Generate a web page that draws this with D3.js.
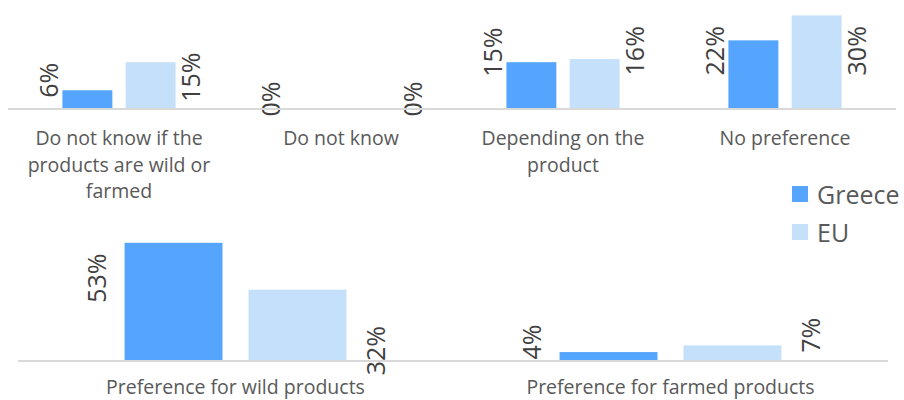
<!DOCTYPE html>
<html>
<head>
<meta charset="utf-8">
<script src="https://cdn.jsdelivr.net/npm/d3@7"></script>
<style>
  body { margin: 0; background: #fff; }
  svg { display: block; font-family: "Open Sans", sans-serif; }
</style>
</head>
<body>
<div id="chart"></div>
<script>
// Data

const topCategories = ["Do not know if the products are wild or farmed", "Do not know", "Depending on the product", "No preference"];
const topGreece = [6, 0, 15, 22];
const topEU = [15, 0, 16, 30];

const bottomCategories = ["Preference for wild products", "Preference for farmed products"];
const bottomGreece = [53, 4];
const bottomEU = [32, 7];

const seriesNames = ["Greece", "EU"];

// Styles

const colors = {Greece: "#55a5ff", EU: "#c5e0fb"};
const labelNudge = {"top|EU|0": 25, "bottom|EU|0": 71};                // labels Excel pushed aside

const width = 904, height = 400;

const svg = d3.select("#chart").append("svg")
    .attr("width", width)
    .attr("height", height);

// Wrap a text element into lines that fit the given width

function wrap(text, maxWidth, lineHeight) {
    text.each(function() {
        const t = d3.select(this);
        const words = t.text().split(/\s+/);
        const x = t.attr("x");
        t.text(null);
        let line = [];
        let tspan = t.append("tspan").attr("x", x).attr("dy", 0);
        words.forEach(w => {
            line.push(w);
            tspan.text(line.join(" "));
            if (tspan.node().getComputedTextLength() > maxWidth && line.length > 1) {
                line.pop();
                tspan.text(line.join(" "));
                line = [w];
                tspan = t.append("tspan").attr("x", x).attr("dy", lineHeight).text(w);
            }
        });
    });
}

// Draw one row of grouped bars

function drawRow(key, cats, greece, eu, xRange, baseY, yMax, pxPerPct, labelY, wrapWidth) {
    const rows = cats.map((c, i) => ({cat: c, i: i, Greece: greece[i], EU: eu[i]}));

    const x = d3.scaleBand().domain(cats).range(xRange).padding(0);
    const xs = d3.scaleBand().domain(seriesNames).range([0, x.bandwidth()])
        .paddingInner(0.21).paddingOuter(0.86);
    const y = d3.scaleLinear().domain([0, yMax]).range([baseY, baseY - yMax * pxPerPct]);
    const plotTop = y(yMax);

    const g = svg.append("g");

    // bars
    const groups = g.selectAll(".grp").data(rows).enter().append("g")
        .attr("transform", d => "translate(" + x(d.cat) + ",0)");

    groups.selectAll("rect")
        .data(d => seriesNames.map(s => ({s: s, v: d[s], i: d.i})))
        .enter().append("rect")
            .attr("x", d => xs(d.s))
            .attr("y", d => y(d.v))
            .attr("width", xs.bandwidth())
            .attr("height", d => y(0) - y(d.v))
            .attr("fill", d => colors[d.s]);

    // axis line
    g.append("line")
        .attr("x1", xRange[0]).attr("x2", xRange[1])
        .attr("y1", baseY).attr("y2", baseY)
        .attr("stroke", "#d9d9d9").attr("stroke-width", 2);

    // value labels, rotated
    const off = 0.065 * x.step();
    groups.selectAll("text.val")
        .data(d => seriesNames.map(s => ({s: s, v: d[s], i: d.i})))
        .enter().append("text")
            .attr("class", "val")
            .attr("transform", d => {
                const cx = d.s === "Greece" ? xs(d.s) - off : xs(d.s) + xs.bandwidth() + off;
                let cy = Math.max(y(d.v) - 10, plotTop + 51);
                cy += labelNudge[key + "|" + d.s + "|" + d.i] || 0;
                return "translate(" + cx + "," + cy + ") rotate(-90)";
            })
            .attr("text-anchor", "middle")
            .attr("dominant-baseline", "central")
            .style("font-size", "25px")
            .style("fill", "#404040")
            .text(d => d.v + "%");

    // category labels
    g.selectAll("text.cat").data(rows).enter().append("text")
        .attr("class", "cat")
        .attr("x", d => x(d.cat) + x.bandwidth() / 2)
        .attr("y", labelY)
        .attr("text-anchor", "middle")
        .style("font-size", "19.5px")
        .style("fill", "#595959")
        .text(d => d.cat)
        .call(wrap, wrapWidth, 26.5);
}

drawRow("top", topCategories, topGreece, topEU, [8, 896], 109, 35, 3.12, 145, 205);
drawRow("bottom", bottomCategories, bottomGreece, bottomEU, [18, 888], 361, 60, 2.23, 394, 400);

// Legend

const legend = svg.append("g").attr("transform", "translate(792,186)");
const item = legend.selectAll("g").data(seriesNames).enter().append("g")
    .attr("transform", (d, i) => "translate(0," + i * 38 + ")");
item.append("rect")
    .attr("width", 16).attr("height", 16)
    .attr("fill", d => colors[d]);
item.append("text")
    .attr("x", 25).attr("y", 8)
    .attr("dominant-baseline", "central")
    .style("font-size", "25px")
    .style("fill", "#595959")
    .text(d => d);
</script>
</body>
</html>
